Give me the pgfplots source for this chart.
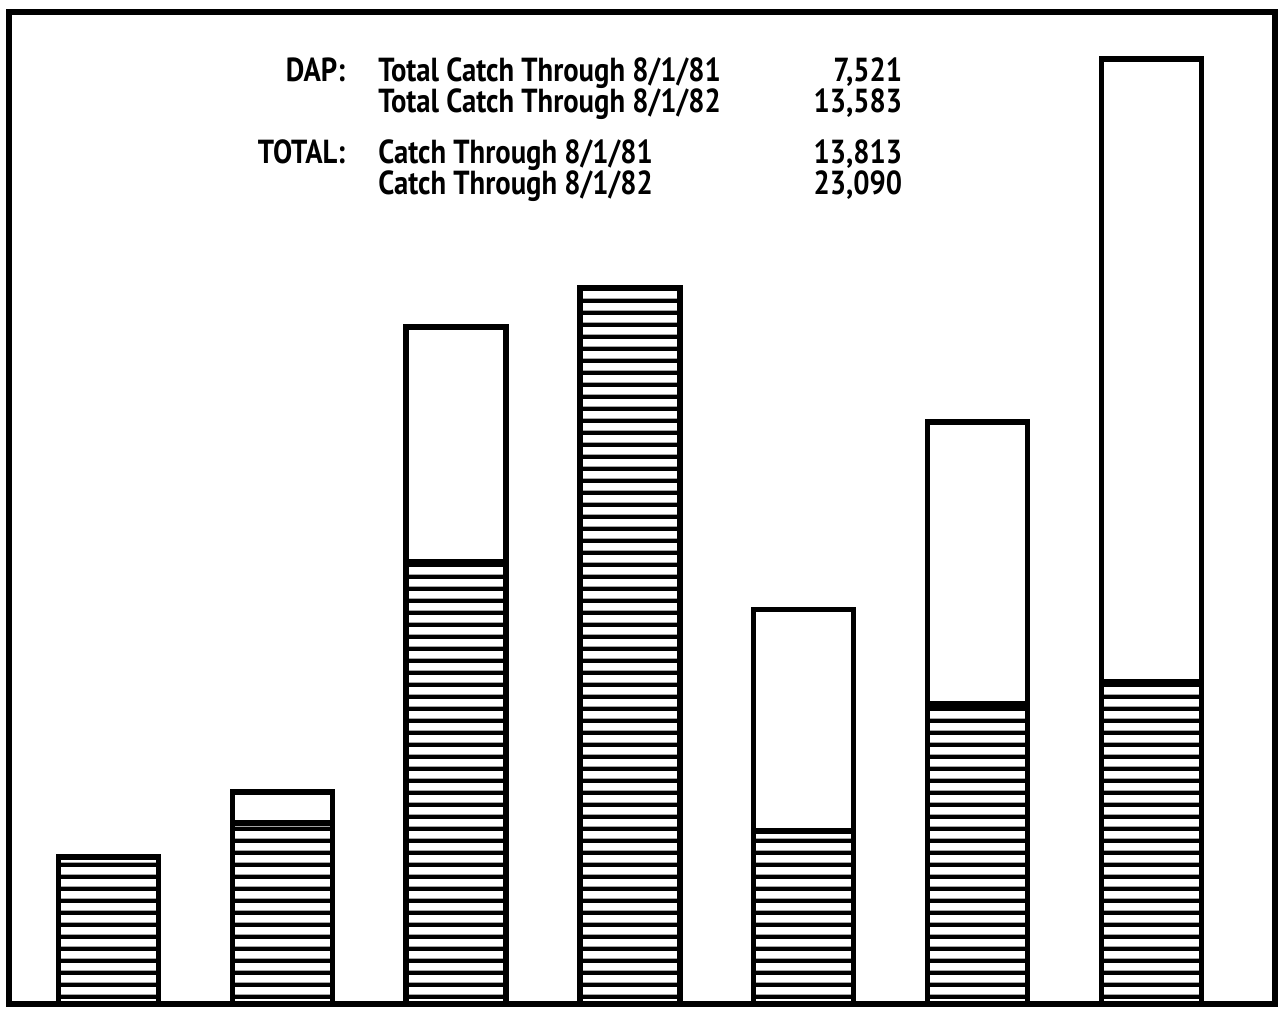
\documentclass[border=0pt]{standalone}
\usepackage{pgfplots}
\pgfplotsset{compat=1.18}
\usepackage{fontspec}
\setmainfont{PT Sans}
\newfontfamily\lblfont[FakeStretch=0.86]{PT Sans}
\usetikzlibrary{patterns}

% thick horizontal rules, 12px period / 4px line at 0.3pt per px
\pgfdeclarepatternformonly{thickrules}{\pgfpointorigin}{\pgfqpoint{3.6pt}{3.6pt}}{\pgfqpoint{3.6pt}{3.6pt}}{%
  \pgfpathrectangle{\pgfpointorigin}{\pgfqpoint{3.6pt}{1.3pt}}%
  \pgfusepath{fill}}

\tikzset{lbl/.style={inner sep=0pt, font=\lblfont\bfseries\fontsize{10}{12}\selectfont}}

\begin{document}
\begin{tikzpicture}
\begin{axis}[
    scale only axis,
    width=379.8pt, height=297.6pt,
    xmin=-0.5725, xmax=6.711,
    ymin=0, ymax=992,
    ybar stacked,
    bar width=0.575,
    xtick=\empty, ytick=\empty,
    axis line style={line width=1.9pt},
    clip=false,
]

% lower (hatched) part
\addplot[pattern=thickrules, draw=black, line width=1.6pt]
    coordinates {
    (0,147) (1,181) (2,442) (3,716) (4,173) (5,300) (6,322)
    };

% upper (open) part
\addplot[fill=white, draw=black, line width=1.6pt]
    coordinates {
    (0,0) (1,31) (2,235) (3,0) (4,221.5) (5,282) (6,623)
    };

\node[lbl, anchor=base east] at (axis cs:1.365,922) {DAP:};
\node[lbl, anchor=base west] at (axis cs:1.549,922) {Total Catch Through 8/1/81};
\node[lbl, anchor=base east] at (axis cs:4.570,922) {7,521};
\node[lbl, anchor=base west] at (axis cs:1.549,891) {Total Catch Through 8/1/82};
\node[lbl, anchor=base east] at (axis cs:4.570,891) {13,583};

\node[lbl, anchor=base east] at (axis cs:1.365,840) {TOTAL:};
\node[lbl, anchor=base west] at (axis cs:1.549,840) {Catch Through 8/1/81};
\node[lbl, anchor=base east] at (axis cs:4.570,840) {13,813};
\node[lbl, anchor=base west] at (axis cs:1.549,809) {Catch Through 8/1/82};
\node[lbl, anchor=base east] at (axis cs:4.570,809) {23,090};

% page margins round the frame
\path (rel axis cs:-0.0071,-0.0071) rectangle (rel axis cs:1.004,1.012);
\end{axis}
\end{tikzpicture}
\end{document}
